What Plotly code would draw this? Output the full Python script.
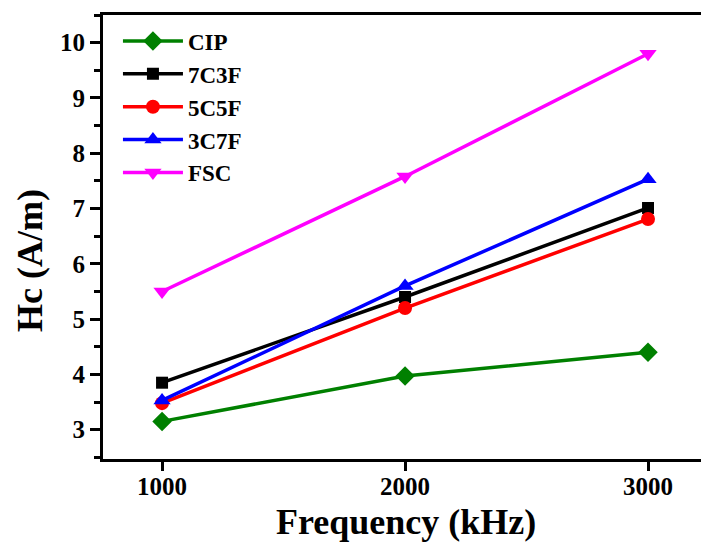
import plotly.graph_objects as go

freq = [1000, 2000, 3000]
series_names = ["CIP", "7C3F", "5C5F", "3C7F", "FSC"]
cip = [3.15, 3.97, 4.40]
c7f3 = [3.85, 5.40, 7.01]
c5f5 = [3.48, 5.20, 6.81]
c3f7 = [3.53, 5.60, 7.53]
fsc = [5.50, 7.58, 9.80]
x_ticks = [1000, 2000, 3000]
y_ticks = [3, 4, 5, 6, 7, 8, 9, 10]

values = [cip, c7f3, c5f5, c3f7, fsc]
colors = ["#008000", "#000000", "#FF0000", "#0000FF", "#FF00FF"]
symbols = ["diamond", "square", "circle", "triangle-up", "triangle-down"]
msizes = [15, 12, 14, 15, 15]

FONT = "Liberation Serif"

fig = go.Figure()
for i, (name, vals) in enumerate(zip(series_names, values)):
    fig.add_trace(go.Scatter(
        x=freq, y=vals, name=name, mode="lines+markers",
        line=dict(color=colors[i], width=3.5),
        marker=dict(symbol=symbols[i], size=msizes[i], color=colors[i]),
        legendgroup=name,
    ))

fig.update_layout(
    width=701, height=542,
    margin=dict(l=103, r=0, t=15, b=83),
    plot_bgcolor="white", paper_bgcolor="white",
    font=dict(family=FONT, color="black", size=25, weight="bold"),
    showlegend=True,
    legend=dict(
        x=0.025, y=0.99, xanchor="left", yanchor="top",
        font=dict(family=FONT, size=23, color="black", weight="bold"),
        bgcolor="rgba(0,0,0,0)", borderwidth=0,
        tracegroupgap=0, itemwidth=60,
    ),
    xaxis=dict(
        range=[757, 3218], tickvals=x_ticks, ticktext=[str(v) for v in x_ticks],
        showgrid=False, zeroline=False,
        showline=True, linecolor="black", linewidth=3, mirror=True,
        ticks="outside", ticklen=9, tickwidth=3, tickcolor="black",
        ticklabelstandoff=-6,
        tickfont=dict(family=FONT, size=25, color="black", weight="bold"),
    ),
    yaxis=dict(
        range=[2.47, 10.5], tickvals=y_ticks,
        showgrid=False, zeroline=False,
        showline=True, linecolor="black", linewidth=3, mirror=False,
        ticks="outside", ticklen=10, tickwidth=3, tickcolor="black",
        minor=dict(dtick=0.5, tick0=0, ticks="outside", ticklen=6, tickwidth=3, tickcolor="black"),
        tickfont=dict(family=FONT, size=25, color="black", weight="bold"),
    ),
    annotations=[
        dict(text="Frequency (kHz)", xref="paper", yref="paper",
             x=0.507, y=-0.142, xanchor="center", yanchor="middle", showarrow=False,
             font=dict(family=FONT, size=36, color="black", weight="bold")),
        dict(text="Hc (A/m)", xref="paper", yref="paper",
             x=-0.122, y=0.446, xanchor="center", yanchor="middle", showarrow=False,
             textangle=-90,
             font=dict(family=FONT, size=36, color="black", weight="bold")),
    ],
)

# remove the default 8px page margin so the 701x542 figure fills the window exactly
fig.write_html(
    "out.html",
    config={"displayModeBar": False},
    post_script="document.body.style.margin='0';document.body.style.overflow='hidden';",
)
